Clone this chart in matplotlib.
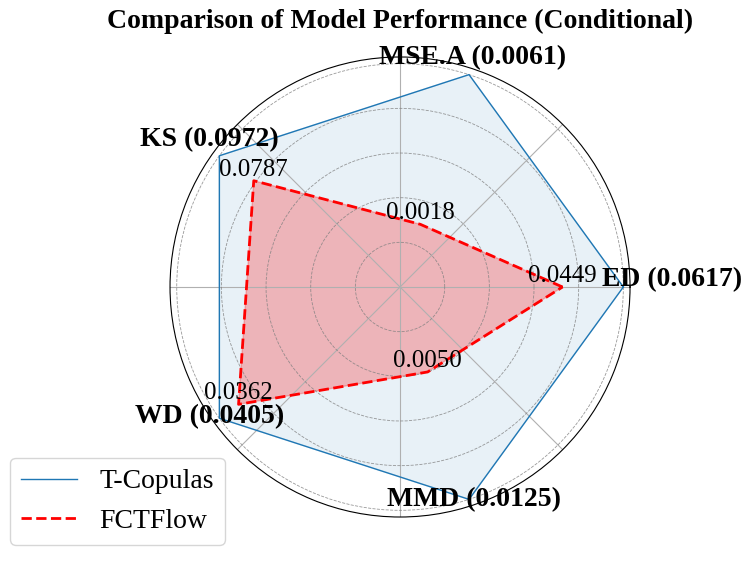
import numpy as np
import matplotlib
matplotlib.use("Agg")
import matplotlib.pyplot as plt

plt.rcParams['font.family'] = ['Liberation Serif', 'DejaVu Serif']

metrics = ["ED", "MSE.A", "KS", "WD", "MMD"]
t_copulas = [0.0617, 0.0061, 0.0972, 0.0405, 0.0125]
fctflow = [0.0449, 0.0018, 0.0787, 0.0362, 0.0050]

# normalise each metric by the larger of the two models
top = np.maximum(t_copulas, fctflow)
t_norm = np.array(t_copulas) / top
f_norm = np.array(fctflow) / top

n = len(metrics)
angles = np.linspace(0, 2 * np.pi, n, endpoint=False)
ang_c = np.append(angles, angles[0])
t_c = np.append(t_norm, t_norm[0])
f_c = np.append(f_norm, f_norm[0])

fig = plt.figure(figsize=(7.53, 5.61), dpi=100)
ax = fig.add_axes([0.2258, 0.0784, 0.6109, 0.820], projection="polar")

ax.plot(ang_c, t_c, color="#1f77b4", linewidth=1, label="T-Copulas")
ax.fill(ang_c, t_c, color="#1f77b4", alpha=0.1)
ax.plot(ang_c, f_c, color="red", linewidth=2, linestyle="--", label="FCTFlow")
ax.fill(ang_c, f_c, color="red", alpha=0.25)

ax.set_ylim(0, 1.03)
ax.set_yticks([0.2, 0.4, 0.6, 0.8, 1.0])
ax.set_yticklabels([])
ax.yaxis.grid(True, linestyle="--", color="gray", linewidth=0.6, alpha=0.8)
ax.xaxis.grid(True, linestyle="-", color="#b0b0b0", linewidth=0.8)
ax.set_xticklabels([])

# label positions (angle offset in degrees, radius) tuned by eye
label_pos = [(1.5, 1.22), (0.4, 1.08), (-1.7, 1.077), (-1.7, 1.03), (1.2, 1.01)]
for a, m, v, (da, r) in zip(angles, metrics, t_copulas, label_pos):
    ax.text(a + np.deg2rad(da), r, f"{m} ({v:.4f})", ha="center", va="center",
            fontsize=20, fontweight="bold")

for a, fn, v in zip(angles, f_norm, fctflow):
    ax.text(a, fn, f"{v:.4f}", ha="center", va="bottom", fontsize=18)

ax.set_title("Comparison of Model Performance (Conditional)",
             fontsize=20, fontweight="bold", pad=21)

fig.legend(loc="lower left", bbox_to_anchor=(-0.005, 0.004), fontsize=20)

fig.savefig("out.png", dpi=100)
